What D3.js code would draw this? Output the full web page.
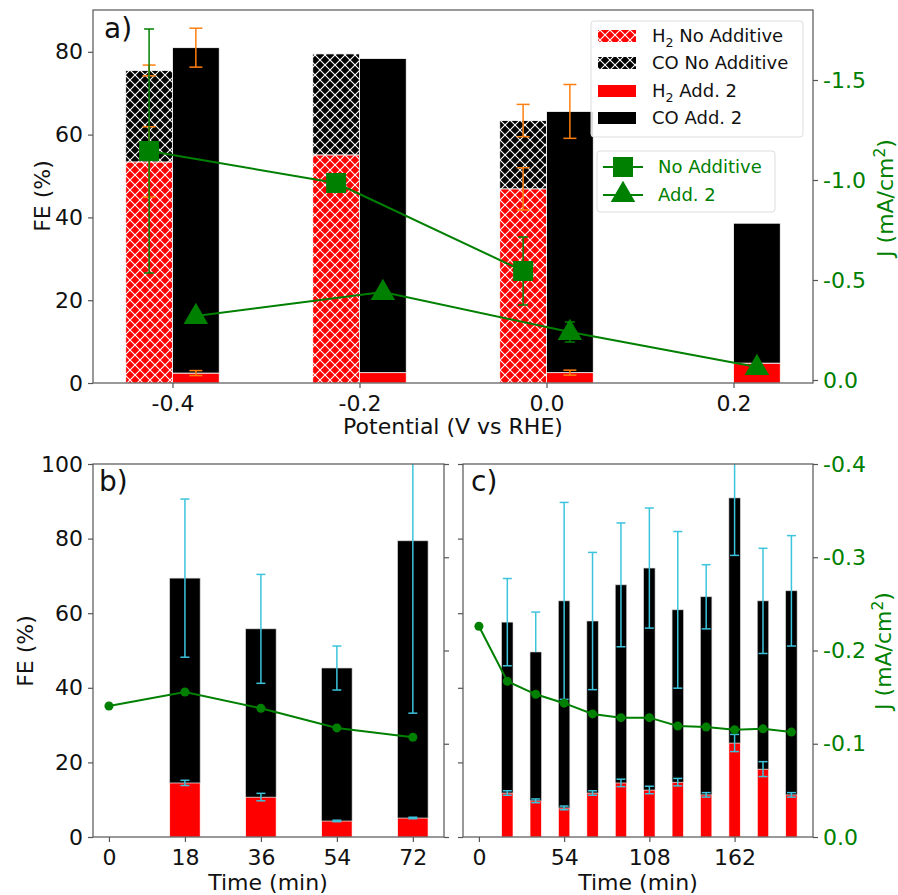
<!DOCTYPE html>
<html>
<head>
    <meta charset="utf-8" />
    <title>FE and J</title>
    <script src="https://cdn.jsdelivr.net/npm/d3@7"></script>
    <style>
        body { margin: 0; background: #fff; }
        text { font-family: "DejaVu Sans", sans-serif; }
    </style>
</head>
<body>
    <script>

        // ---- panel a data (potential scan) ----
        var potNoAdd = [-0.4, -0.2, 0.0];
        var potAdd = [-0.4, -0.2, 0.0, 0.2];
        var potTicks = [-0.4, -0.2, 0.0, 0.2];

        var h2NoAdd = [53.4, 55.1, 46.9];
        var h2NoAddErr = [8.5, 0, 5.1];
        var coNoAdd = [22.1, 24.4, 16.5];
        var totNoAddErr = [1.3, 0, 3.9];

        var h2Add = [2.4, 2.5, 2.5, 4.8];
        var h2AddErr = [0.6, 0, 0.6, 0];
        var coAdd = [78.6, 75.9, 63.1, 33.8];
        var totAddErr = [4.7, 0, 6.5, 0];

        var jNoAdd = [-1.145, -0.985, -0.545];
        var jNoAddErr = [0.61, 0, 0.17];
        var jAdd = [-0.32, -0.44, -0.24, -0.065];
        var jAddErr = [0, 0, 0.05, 0];

        var feTicksA = [0, 20, 40, 60, 80];
        var jTicksA = [0.0, -0.5, -1.0, -1.5];

        // ---- panel b data (time, short run) ----
        var timesB = [18, 36, 54, 72];
        var h2B = [14.5, 10.7, 4.3, 5.1];
        var h2BErr = [0.7, 1.0, 0.2, 0.2];
        var coB = [54.9, 45.1, 41.0, 74.3];
        var totBErrHi = [21.2, 14.6, 5.9, 46.2];
        var totBErrLo = [21.2, 14.6, 5.9, 46.2];
        var jTimesB = [0, 18, 36, 54, 72];
        var jB = [-0.1405, -0.1555, -0.138, -0.117, -0.107];
        var timeTicksB = [0, 18, 36, 54, 72];

        // ---- panel c data (time, long run) ----
        var timesC = [18, 36, 54, 72, 90, 108, 126, 144, 162, 180, 198];
        var h2C = [11.8, 9.7, 7.8, 11.8, 14.5, 12.6, 14.7, 11.3, 25.2, 18.2, 11.3];
        var h2CErr = [0.6, 0.5, 0.5, 0.6, 1.0, 1.0, 1.0, 0.6, 2.3, 2.0, 0.6];
        var coC = [45.8, 39.9, 55.5, 46.1, 53.1, 59.5, 46.2, 53.1, 65.7, 45.1, 54.7];
        var totCErrHi = [11.7, 10.7, 26.4, 18.4, 16.6, 16.1, 21.0, 8.6, 15.4, 14.1, 14.8];
        var totCErrLo = [11.7, 0, 26.4, 18.4, 16.6, 16.1, 21.0, 8.6, 15.4, 14.1, 14.8];
        var jTimesC = [0, 18, 36, 54, 72, 90, 108, 126, 144, 162, 180, 198];
        var jC = [-0.226, -0.167, -0.153, -0.1435, -0.132, -0.128, -0.128, -0.119, -0.118, -0.115, -0.116, -0.1125];
        var timeTicksC = [0, 54, 108, 162];

        var feTicksBC = [0, 20, 40, 60, 80, 100];
        var jTicksBC = [0.0, -0.1, -0.2, -0.3, -0.4];

        var green = "#008000";
        var orange = "#ff7f0e";
        var cyan = "#3cc4dc";
        var spine = "#555";
        var fs = 22;

        var w = 898, h = 895;
        var svg = d3.select("body").append("svg").attr("width", w).attr("height", h);
        var defs = svg.append("defs");

        // crosshatch fills ('xx' style, white lines)
        function hatch(id, color) {
            var p = defs.append("pattern").attr("id", id)
                .attr("patternUnits", "userSpaceOnUse")
                .attr("width", 10).attr("height", 10);
            p.append("rect").attr("width", 10).attr("height", 10).attr("fill", color);
            p.append("path").attr("d", "M0,0L10,10M10,0L0,10")
                .attr("stroke", "white").attr("stroke-width", 1.1);
        }
        hatch("hRed", "red");
        hatch("hBlack", "black");

        //Scales
        var xA = d3.scaleLinear().domain([-0.485, 0.285]).range([93, 813]);
        var yA = d3.scaleLinear().domain([0, 90.1]).range([383, 10]);
        var jA = d3.scaleLinear().domain([0.015, -1.85]).range([383, 10]);

        var xB = d3.scaleLinear().domain([-3.78, 79.38]).range([93, 444]);
        var xC = d3.scaleLinear().domain([-10.08, 211.68]).range([463, 813]);
        var yBC = d3.scaleLinear().domain([0, 100]).range([837, 464]);
        var jBC = d3.scaleLinear().domain([0, -0.4]).range([837, 464]);

        function styleAxis(g, color, showText) {
            g.attr("font-size", fs).attr("font-family", "DejaVu Sans");
            g.select(".domain").remove();
            g.selectAll(".tick line").attr("stroke", spine).attr("stroke-width", 1.2);
            g.selectAll(".tick text").attr("fill", color);
            if (!showText) g.selectAll(".tick text").remove();
        }

        function fmt1(v) { return (Math.abs(v) < 1e-9 ? 0 : v).toFixed(1); }

        function frame(x0, y0, x1, y1) {
            svg.append("rect").attr("x", x0).attr("y", y0)
                .attr("width", x1 - x0).attr("height", y1 - y0)
                .attr("fill", "none").attr("stroke", spine).attr("stroke-width", 1.2);
        }

        // draw vertical error bars: xs in px, centers in data units, lo/hi error
        function errBars(g, xs, centers, lo, hi, yScale, color, cap, lw) {
            var y0 = yScale.range()[0], y1 = yScale.range()[1];
            var up = yScale(1) < yScale(0) ? 1 : -1;
            var clip = function (v) { return Math.max(y1, Math.min(y0, v)); };
            centers.forEach(function (c, i) {
                if (!lo[i] && !hi[i]) return;
                var x = xs[i];
                var ytop = yScale(c + up * hi[i]);
                var ybot = yScale(c - up * lo[i]);
                g.append("line").attr("x1", x).attr("x2", x)
                    .attr("y1", clip(ytop)).attr("y2", clip(ybot))
                    .attr("stroke", color).attr("stroke-width", lw);
                [[hi[i], ytop], [lo[i], ybot]].forEach(function (e) {
                    if (e[0] > 0 && e[1] >= y1 && e[1] <= y0) {
                        g.append("line").attr("x1", x - cap / 2).attr("x2", x + cap / 2)
                            .attr("y1", e[1]).attr("y2", e[1])
                            .attr("stroke", color).attr("stroke-width", lw);
                    }
                });
            });
        }

        function sub2(t, pre, post) {
            t.append("tspan").text(pre);
            t.append("tspan").attr("font-size", "70%").attr("dy", 5).text("2");
            t.append("tspan").attr("dy", -5).text(post);
        }

        function jLabel(x, y) {
            var t = svg.append("text")
                .attr("transform", "translate(" + x + "," + y + ") rotate(-90)")
                .attr("text-anchor", "middle").attr("dy", "0.35em")
                .attr("font-size", 22).attr("fill", green);
            t.append("tspan").text("J (mA/cm");
            t.append("tspan").attr("font-size", "70%").attr("dy", -8).text("2");
            t.append("tspan").attr("dy", 8).text(")");
        }

        function vLabel(text, x, y) {
            svg.append("text")
                .attr("transform", "translate(" + x + "," + y + ") rotate(-90)")
                .attr("text-anchor", "middle").attr("dy", "0.35em")
                .attr("font-size", 22).attr("fill", "#111").text(text);
        }

        function hLabel(text, x, y) {
            svg.append("text").attr("x", x).attr("y", y)
                .attr("text-anchor", "middle")
                .attr("font-size", 22).attr("fill", "#111").text(text);
        }

        // =================== panel a ===================
        var ga = svg.append("g");
        var bw = 0.05;

        // No additive bars (hatched), left of each potential
        ga.selectAll(".h2n").data(h2NoAdd).enter().append("rect")
            .attr("x", function (d, i) { return xA(potNoAdd[i] - bw); })
            .attr("y", function (d) { return yA(d); })
            .attr("width", function (d, i) { return xA(potNoAdd[i]) - xA(potNoAdd[i] - bw); })
            .attr("height", function (d) { return yA(0) - yA(d); })
            .attr("fill", "url(#hRed)").attr("stroke", "white").attr("stroke-width", 0.8);
        ga.selectAll(".con").data(coNoAdd).enter().append("rect")
            .attr("x", function (d, i) { return xA(potNoAdd[i] - bw); })
            .attr("y", function (d, i) { return yA(d + h2NoAdd[i]); })
            .attr("width", function (d, i) { return xA(potNoAdd[i]) - xA(potNoAdd[i] - bw); })
            .attr("height", function (d) { return yA(0) - yA(d); })
            .attr("fill", "url(#hBlack)").attr("stroke", "white").attr("stroke-width", 0.8);

        // Additive 2 bars, right of each potential
        ga.selectAll(".h2a").data(h2Add).enter().append("rect")
            .attr("x", function (d, i) { return xA(potAdd[i]); })
            .attr("y", function (d) { return yA(d); })
            .attr("width", function (d, i) { return xA(potAdd[i] + bw) - xA(potAdd[i]); })
            .attr("height", function (d) { return yA(0) - yA(d); })
            .attr("fill", "red").attr("stroke", "white").attr("stroke-width", 0.8);
        ga.selectAll(".coa").data(coAdd).enter().append("rect")
            .attr("x", function (d, i) { return xA(potAdd[i]); })
            .attr("y", function (d, i) { return yA(d + h2Add[i]); })
            .attr("width", function (d, i) { return xA(potAdd[i] + bw) - xA(potAdd[i]); })
            .attr("height", function (d) { return yA(0) - yA(d); })
            .attr("fill", "black").attr("stroke", "white").attr("stroke-width", 0.8);

        var cxNoAdd = potNoAdd.map(function (p) { return xA(p - bw / 2); });
        var cxAdd = potAdd.map(function (p) { return xA(p + bw / 2); });

        errBars(ga, cxNoAdd, h2NoAdd, h2NoAddErr, h2NoAddErr, yA, orange, 13, 1.5);
        errBars(ga, cxNoAdd, coNoAdd.map(function (d, i) { return d + h2NoAdd[i]; }), totNoAddErr, totNoAddErr, yA, orange, 13, 1.5);
        errBars(ga, cxAdd, h2Add, h2AddErr, h2AddErr, yA, orange, 13, 1.5);
        errBars(ga, cxAdd, coAdd.map(function (d, i) { return d + h2Add[i]; }), totAddErr, totAddErr, yA, orange, 13, 1.5);

        // J lines
        var lineA = d3.line().x(function (d) { return d[0]; }).y(function (d) { return jA(d[1]); });
        ga.append("path").datum(jNoAdd.map(function (d, i) { return [cxNoAdd[i], d]; }))
            .attr("d", lineA).attr("fill", "none").attr("stroke", green).attr("stroke-width", 2);
        ga.append("path").datum(jAdd.map(function (d, i) { return [cxAdd[i], d]; }))
            .attr("d", lineA).attr("fill", "none").attr("stroke", green).attr("stroke-width", 2);
        errBars(ga, cxNoAdd, jNoAdd, jNoAddErr, jNoAddErr, jA, green, 10, 1.5);
        errBars(ga, cxAdd, jAdd, jAddErr, jAddErr, jA, green, 10, 1.5);

        var sq = d3.symbol().type(d3.symbolSquare).size(400);
        var tri = d3.symbol().type(d3.symbolTriangle).size(260);
        ga.selectAll(".sq").data(jNoAdd).enter().append("path")
            .attr("d", sq)
            .attr("transform", function (d, i) { return "translate(" + cxNoAdd[i] + "," + jA(d) + ")"; })
            .attr("fill", green);
        ga.selectAll(".tri").data(jAdd).enter().append("path")
            .attr("d", tri)
            .attr("transform", function (d, i) { return "translate(" + cxAdd[i] + "," + (jA(d) + 1) + ")"; })
            .attr("fill", green);

        // axes a
        svg.append("g").attr("transform", "translate(0,383)")
            .call(d3.axisBottom(xA).tickValues(potTicks).tickSize(5).tickPadding(7).tickFormat(fmt1))
            .call(styleAxis, "#111", true);
        svg.append("g").attr("transform", "translate(93,0)")
            .call(d3.axisLeft(yA).tickValues(feTicksA).tickSize(5).tickPadding(5))
            .call(styleAxis, "#111", true);
        svg.append("g").attr("transform", "translate(813,0)")
            .call(d3.axisRight(jA).tickValues(jTicksA).tickSize(5).tickPadding(5).tickFormat(fmt1))
            .call(styleAxis, green, true);
        frame(93, 10, 813, 383);

        svg.append("text").attr("x", 104).attr("y", 38).attr("font-size", 28).attr("fill", "#111").text("a)");
        vLabel("FE (%)", 42, 196);
        hLabel("Potential (V vs RHE)", 453, 434);
        jLabel(885, 198);

        // legend 1 (bars)
        var lg1 = svg.append("g");
        lg1.append("rect").attr("x", 591).attr("y", 21).attr("width", 212).attr("height", 116)
            .attr("rx", 3).attr("fill", "white").attr("fill-opacity", 0.85)
            .attr("stroke", "#ddd");
        var leg1Fill = ["url(#hRed)", "url(#hBlack)", "red", "black"];
        var leg1Rows = [36, 63, 91, 118];
        leg1Fill.forEach(function (f, i) {
            lg1.append("rect").attr("x", 598).attr("y", leg1Rows[i] - 6).attr("width", 38).attr("height", 12).attr("fill", f);
            var t = lg1.append("text").attr("x", 652).attr("y", leg1Rows[i]).attr("dy", "0.35em")
                .attr("font-size", 18).attr("fill", "#111");
            if (i == 0) sub2(t, "H", " No Additive");
            else if (i == 1) t.text("CO No Additive");
            else if (i == 2) sub2(t, "H", " Add. 2");
            else t.text("CO Add. 2");
        });

        // legend 2 (J)
        var lg2 = svg.append("g");
        lg2.append("rect").attr("x", 597).attr("y", 151).attr("width", 178).attr("height", 61)
            .attr("rx", 3).attr("fill", "white").attr("fill-opacity", 0.85)
            .attr("stroke", "#ddd");
        [["No Additive", sq, 167], ["Add. 2", tri, 195]].forEach(function (e) {
            lg2.append("line").attr("x1", 603).attr("x2", 643).attr("y1", e[2]).attr("y2", e[2])
                .attr("stroke", green).attr("stroke-width", 2);
            lg2.append("path").attr("d", e[1]).attr("transform", "translate(623," + e[2] + ")").attr("fill", green);
            lg2.append("text").attr("x", 658).attr("y", e[2]).attr("dy", "0.35em")
                .attr("font-size", 18).attr("fill", green).text(e[0]);
        });

        // =================== panels b and c ===================
        function timePanel(xS, times, h2, h2Err, co, errLo, errHi, jt, jv) {
            var g = svg.append("g");
            var bwT = 7.2;
            g.selectAll(".h2").data(h2).enter().append("rect")
                .attr("x", function (d, i) { return xS(times[i] - bwT / 2); })
                .attr("y", function (d) { return yBC(d); })
                .attr("width", function (d, i) { return xS(times[i] + bwT / 2) - xS(times[i] - bwT / 2); })
                .attr("height", function (d) { return yBC(0) - yBC(d); })
                .attr("fill", "red").attr("stroke", "white").attr("stroke-width", 0.6);
            g.selectAll(".co").data(co).enter().append("rect")
                .attr("x", function (d, i) { return xS(times[i] - bwT / 2); })
                .attr("y", function (d, i) { return yBC(d + h2[i]); })
                .attr("width", function (d, i) { return xS(times[i] + bwT / 2) - xS(times[i] - bwT / 2); })
                .attr("height", function (d) { return yBC(0) - yBC(d); })
                .attr("fill", "black").attr("stroke", "#ccc").attr("stroke-width", 0.6);
            var cx = times.map(function (t) { return xS(t); });
            errBars(g, cx, h2, h2Err, h2Err, yBC, cyan, 9, 1.5);
            errBars(g, cx, co.map(function (d, i) { return d + h2[i]; }), errLo, errHi, yBC, cyan, 9, 1.5);

            var ln = d3.line().x(function (d, i) { return xS(jt[i]); }).y(function (d) { return jBC(d); });
            g.append("path").datum(jv).attr("d", ln).attr("fill", "none").attr("stroke", green).attr("stroke-width", 2);
            g.selectAll(".pt").data(jv).enter().append("circle")
                .attr("cx", function (d, i) { return xS(jt[i]); })
                .attr("cy", function (d) { return jBC(d); })
                .attr("r", 4.5).attr("fill", green);
        }

        timePanel(xB, timesB, h2B, h2BErr, coB, totBErrLo, totBErrHi, jTimesB, jB);
        timePanel(xC, timesC, h2C, h2CErr, coC, totCErrLo, totCErrHi, jTimesC, jC);

        // axes b
        svg.append("g").attr("transform", "translate(0,837)")
            .call(d3.axisBottom(xB).tickValues(timeTicksB).tickSize(5).tickPadding(7))
            .call(styleAxis, "#111", true);
        svg.append("g").attr("transform", "translate(93,0)")
            .call(d3.axisLeft(yBC).tickValues(feTicksBC).tickSize(5).tickPadding(5))
            .call(styleAxis, "#111", true);
        svg.append("g").attr("transform", "translate(444,0)")
            .call(d3.axisRight(jBC).tickValues(jTicksBC).tickSize(5).tickPadding(5))
            .call(styleAxis, green, false);
        frame(93, 464, 444, 837);

        // axes c
        svg.append("g").attr("transform", "translate(0,837)")
            .call(d3.axisBottom(xC).tickValues(timeTicksC).tickSize(5).tickPadding(7))
            .call(styleAxis, "#111", true);
        svg.append("g").attr("transform", "translate(463,0)")
            .call(d3.axisLeft(yBC).tickValues(feTicksBC).tickSize(5).tickPadding(5))
            .call(styleAxis, "#111", false);
        svg.append("g").attr("transform", "translate(813,0)")
            .call(d3.axisRight(jBC).tickValues(jTicksBC).tickSize(5).tickPadding(5).tickFormat(fmt1))
            .call(styleAxis, green, true);
        frame(463, 464, 813, 837);

        svg.append("text").attr("x", 99).attr("y", 491).attr("font-size", 28).attr("fill", "#111").text("b)");
        svg.append("text").attr("x", 471).attr("y", 491).attr("font-size", 28).attr("fill", "#111").text("c)");
        vLabel("FE (%)", 25, 651);
        hLabel("Time (min)", 268, 890);
        hLabel("Time (min)", 638, 890);
        jLabel(883, 651);

    </script>
</body>
</html>
